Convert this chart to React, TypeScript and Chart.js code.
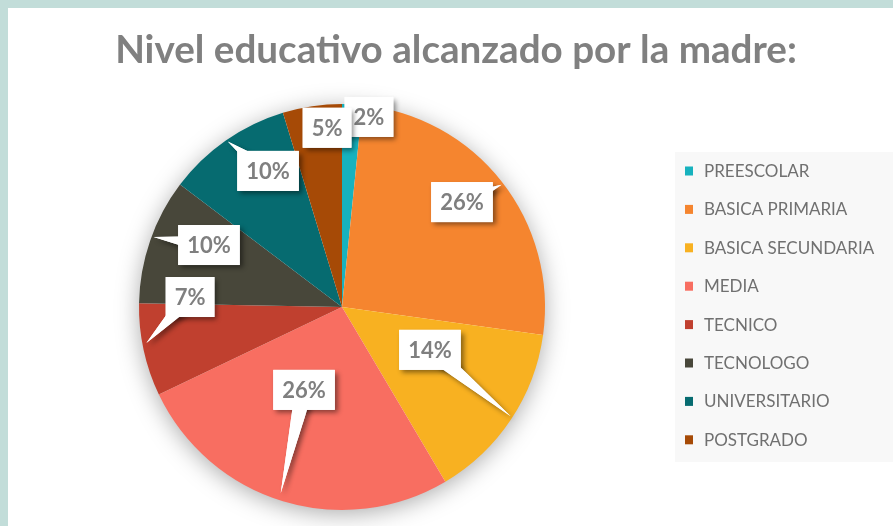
import React, { useEffect, useRef } from "react";
import { Chart, registerables } from "chart.js";

Chart.register(...registerables);

const TITLE = "Nivel educativo alcanzado por la madre:";
const categories = [
  "PREESCOLAR",
  "BASICA PRIMARIA",
  "BASICA SECUNDARIA",
  "MEDIA",
  "TECNICO",
  "TECNOLOGO",
  "UNIVERSITARIO",
  "POSTGRADO",
];
// percentages (consistent with the rounded labels)
const values = [1.6, 25.6, 14.3, 26.4, 7.4, 10.0, 10.0, 4.7];
const colors = [
  "#17b2be",
  "#f5852f",
  "#f8b121",
  "#f86e61",
  "#c0402f",
  "#48473a",
  "#066b70",
  "#a64a06",
];

// callout placement (style): angle shift (deg) from slice middle, radius fraction
const boxAngleShift = [5.2, -3.0, -7.7, 7.7, 16, 5.9, 6.4, 3.7];
const boxRadius = [0.946, 0.785, 0.482, 0.449, 0.75, 0.723, 0.763, 0.886];
const tipAngleShift = [0, 0.7, -0.7, 1.3, 1.8, 1.3, 0.3, 0];
const tipRadius = [0, 0.99, 0.99, 0.965, 0.98, 0.99, 0.99, 0];

const W = 893;
const H = 526;

export default function App() {
  const ref = useRef<HTMLCanvasElement>(null);

  useEffect(() => {
    const canvas = ref.current!;
    const total = values.reduce((a, b) => a + b, 0);

    const bgPlugin = {
      id: "bgPlugin",
      beforeDraw(chart: any) {
        const ctx = chart.ctx as CanvasRenderingContext2D;
        ctx.save();
        ctx.fillStyle = "#ffffff";
        ctx.fillRect(0, 0, W, H);
        ctx.fillStyle = "#c2ddd9";
        ctx.fillRect(0, 0, W, 8);
        ctx.fillRect(0, 0, 8, H);
        // title
        let size = 34;
        ctx.font = `bold ${size}px Lato`;
        const w = ctx.measureText(TITLE).width;
        size = size * (682 / w);
        ctx.font = `bold ${size}px Lato`;
        ctx.fillStyle = "#808080";
        ctx.textAlign = "center";
        ctx.textBaseline = "alphabetic";
        ctx.fillText(TITLE, 456, 63);
        // legend
        ctx.fillStyle = "#f8f8f8";
        ctx.fillRect(675, 152, W - 675, 310);
        ctx.font = "17px Lato";
        ctx.textAlign = "left";
        ctx.textBaseline = "middle";
        categories.forEach((c, i) => {
          const y = 171 + i * 38.4;
          ctx.fillStyle = colors[i];
          ctx.fillRect(685, y - 4.5, 8, 9);
          ctx.fillStyle = "#707070";
          ctx.fillText(c, 704, y + 0.5);
        });
        ctx.restore();
      },
      beforeDatasetsDraw(chart: any) {
        const meta = chart.getDatasetMeta(0);
        const arc = meta.data[0] as any;
        if (!arc) return;
        const ctx = chart.ctx as CanvasRenderingContext2D;
        ctx.save();
        ctx.shadowColor = "rgba(0,0,0,0.35)";
        ctx.shadowBlur = 24;
        ctx.shadowOffsetX = 0;
        ctx.shadowOffsetY = 4;
        ctx.fillStyle = "#ffffff";
        ctx.beginPath();
        ctx.arc(arc.x, arc.y, arc.outerRadius - 1, 0, Math.PI * 2);
        ctx.fill();
        ctx.restore();
      },
      afterDatasetsDraw(chart: any) {
        const meta = chart.getDatasetMeta(0);
        const ctx = chart.ctx as CanvasRenderingContext2D;
        ctx.save();
        ctx.font = "bold 22px Lato";
        meta.data.forEach((el: any, i: number) => {
          const mid = (el.startAngle + el.endAngle) / 2;
          const R = el.outerRadius;
          const a = mid + (boxAngleShift[i] * Math.PI) / 180;
          const bx = el.x + Math.cos(a) * R * boxRadius[i];
          const by = el.y + Math.sin(a) * R * boxRadius[i];
          const txt = Math.round((values[i] * 100) / total) + "%";
          const tw = ctx.measureText(txt).width;
          const bw = tw + 18;
          const bh = 40;
          const hasTip = tipRadius[i] > 0;
          let tx = 0, ty = 0, p1x = 0, p1y = 0, p2x = 0, p2y = 0;
          if (hasTip) {
            const ta = mid + (tipAngleShift[i] * Math.PI) / 180;
            tx = el.x + Math.cos(ta) * R * tipRadius[i];
            ty = el.y + Math.sin(ta) * R * tipRadius[i];
            const dx = tx - bx, dy = ty - by;
            const len = Math.hypot(dx, dy) || 1;
            const nx = -dy / len, ny = dx / len;
            p1x = bx + nx * 9; p1y = by + ny * 9;
            p2x = bx - nx * 9; p2y = by - ny * 9;
          }
          const drawShape = () => {
            if (hasTip) {
              ctx.beginPath();
              ctx.moveTo(p1x, p1y);
              ctx.lineTo(tx, ty);
              ctx.lineTo(p2x, p2y);
              ctx.closePath();
              ctx.fill();
            }
            ctx.fillRect(bx - bw / 2, by - bh / 2, bw, bh);
          };
          ctx.fillStyle = "#ffffff";
          ctx.shadowColor = "rgba(0,0,0,0.45)";
          ctx.shadowBlur = 5;
          ctx.shadowOffsetX = 3;
          ctx.shadowOffsetY = 3;
          drawShape();
          ctx.shadowColor = "rgba(0,0,0,0)";
          ctx.shadowBlur = 0;
          ctx.shadowOffsetX = 0;
          ctx.shadowOffsetY = 0;
          drawShape();
          ctx.fillStyle = "#7f7f7f";
          ctx.textAlign = "center";
          ctx.textBaseline = "middle";
          ctx.fillText(txt, bx, by + 1);
        });
        ctx.restore();
      },
    };

    const chart = new Chart(canvas, {
      type: "pie",
      data: {
        labels: categories,
        datasets: [
          {
            data: values,
            backgroundColor: colors,
            borderWidth: 0,
            hoverOffset: 0,
            offset: 0,
          },
        ],
      },
      options: {
        responsive: false,
        animation: false,
        events: [],
        layout: { padding: { left: 139, right: 348, top: 104, bottom: 16 } },
        plugins: {
          legend: { display: false },
          title: { display: false },
          tooltip: { enabled: false },
        },
      },
      plugins: [bgPlugin],
    });
    return () => chart.destroy();
  }, []);

  return (
    <div style={{ position: "absolute", left: 0, top: 0, width: W, height: H }}>
      <canvas ref={ref} width={W} height={H} style={{ width: W, height: H, display: "block" }} />
    </div>
  );
}
